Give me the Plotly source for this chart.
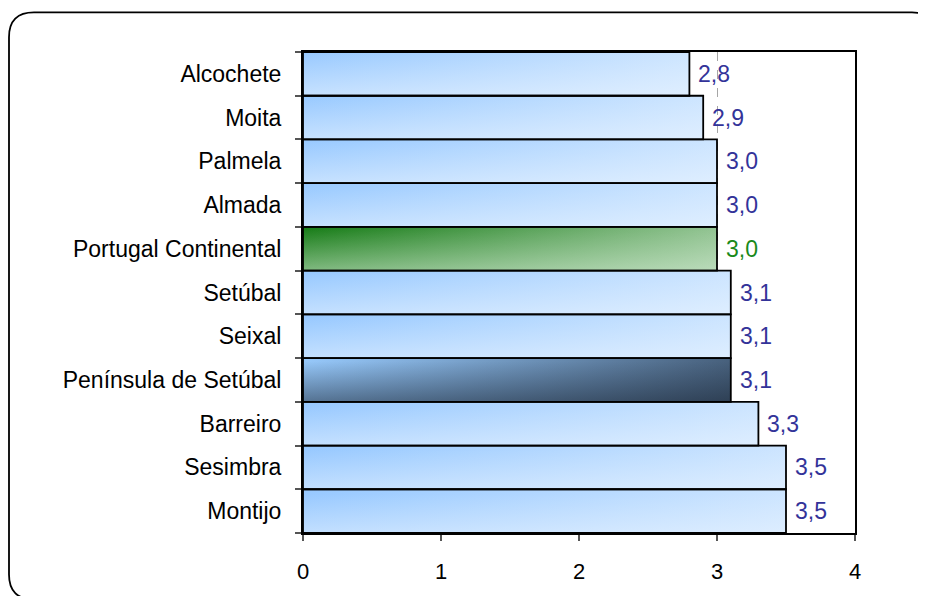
import plotly.graph_objects as go

# ---- data ----
categories = ["Alcochete", "Moita", "Palmela", "Almada", "Portugal Continental",
              "Setúbal", "Seixal", "Península de Setúbal", "Barreiro", "Sesimbra", "Montijo"]
values = [2.8, 2.9, 3.0, 3.0, 3.0, 3.1, 3.1, 3.1, 3.3, 3.5, 3.5]
bar_styles = ["blue", "blue", "blue", "blue", "green",
              "blue", "blue", "navy", "blue", "blue", "blue"]
x_ticks = [0, 1, 2, 3, 4]

# ---- styles ----
GRAD = {
    "blue": ((152, 201, 255), (238, 246, 255)),
    "green": ((25, 125, 25), (222, 240, 222)),
    "navy": ((150, 200, 250), (22, 32, 46)),
}
LABEL_COL = {"blue": "#333399", "green": "#1a8a1a", "navy": "#333399"}
FAMILY = "Liberation Sans, Arial, sans-serif"


def lerp(a, b, t):
    return tuple(int(round(a[i] + (b[i] - a[i]) * t)) for i in range(3))


def rgba(c, a=1.0):
    return f"rgba({c[0]},{c[1]},{c[2]},{a})"


# page body has an 8px margin, so figure coords = window coords - 8
OFF = 8
W, H = 926 - OFF, 596 - OFF
L, R, T, B = 303 - OFF, 855 - OFF, 52 - OFF, 538 - OFF

fig = go.Figure()
n = len(categories)
for i, (v, st) in enumerate(zip(values, bar_styles)):
    c0, c1 = GRAD[st]
    xs = [0, v, v, 0, 0]
    ys = [i - 0.5, i - 0.5, i + 0.5, i + 0.5, i - 0.5]
    fig.add_trace(go.Scatter(
        x=xs, y=ys, mode="lines", fill="toself", line=dict(width=0),
        fillgradient=dict(type="horizontal", start=0, stop=v,
                          colorscale=[[0, rgba(c0)], [1, rgba(lerp(c0, c1, 0.62))]]),
        hoverinfo="skip", showlegend=False))
    fig.add_trace(go.Scatter(
        x=xs, y=ys, mode="lines", fill="toself", line=dict(width=0),
        fillgradient=dict(type="vertical", start=i - 0.5, stop=i + 0.5,
                          colorscale=[[0, rgba(c1, 0.0)], [1, rgba(c1, 0.55)]]),
        hoverinfo="skip", showlegend=False))

# outlines
ox, oy = [], []
for i, v in enumerate(values):
    ox += [0, v, v, 0, 0, None]
    oy += [i - 0.5, i - 0.5, i + 0.5, i + 0.5, i - 0.5, None]
fig.add_trace(go.Scatter(x=ox, y=oy, mode="lines", line=dict(color="black", width=1.8),
                         hoverinfo="skip", showlegend=False))

# value labels
for i, (v, st) in enumerate(zip(values, bar_styles)):
    fig.add_annotation(x=v, y=i, xref="x", yref="y", xanchor="left", yanchor="middle",
                       xshift=7, showarrow=False,
                       text=f"{v:.1f}".replace(".", ","),
                       font=dict(family=FAMILY, size=23, color=LABEL_COL[st]))


def pt(px, py):
    x = (px - L) / (R - L)
    y = 1 - (py - T) / (B - T)
    return f"{x:.5f},{y:.5f}"


# rounded outer frame (figure pixel coords)
x0, y0, x1, y1, r = 1, 4, 929, 597, 25
path = (f"M {pt(x0, y1 - r)} L {pt(x0, y0 + r)} Q {pt(x0, y0)} {pt(x0 + r, y0)} "
        f"L {pt(x1 - r, y0)} Q {pt(x1, y0)} {pt(x1, y0 + r)} L {pt(x1, y1 - r)} "
        f"Q {pt(x1, y1)} {pt(x1 - r, y1)} L {pt(x0 + r, y1)} Q {pt(x0, y1)} {pt(x0, y1 - r)} Z")
fig.add_shape(type="path", path=path, xref="paper", yref="paper",
              line=dict(color="black", width=1.8), layer="above")

xfont = dict(family=FAMILY, size=22, color="black")
yfont = dict(family=FAMILY, size=23, color="black")
fig.update_layout(
    width=W, height=H,
    margin=dict(l=L, r=W - R, t=T, b=H - B, pad=0),
    paper_bgcolor="white", plot_bgcolor="white",
    font=xfont,
    showlegend=False,
    xaxis=dict(range=[0, 4], tickvals=x_ticks, ticktext=[str(t) for t in x_ticks],
               showgrid=True, gridcolor="#a6a6a6", griddash="dash", gridwidth=1,
               zeroline=False, showline=True, linecolor="black", linewidth=2, mirror=True,
               ticks="outside", ticklen=6, tickcolor="#555555", tickwidth=1.5,
               ticklabelstandoff=12, tickfont=xfont, fixedrange=True),
    yaxis=dict(range=[n - 0.5, -0.5], tickvals=list(range(n)), ticktext=categories,
               showgrid=False, zeroline=False, showline=True, linecolor="black",
               linewidth=2, mirror=True, ticks="", ticklabelstandoff=15, tickfont=yfont,
               minor=dict(tickvals=[i - 0.5 for i in range(n + 1)], ticks="outside",
                          ticklen=6, tickcolor="#555555", tickwidth=1.5, showgrid=False),
               fixedrange=True),
)

fig.write_html("out.html")
